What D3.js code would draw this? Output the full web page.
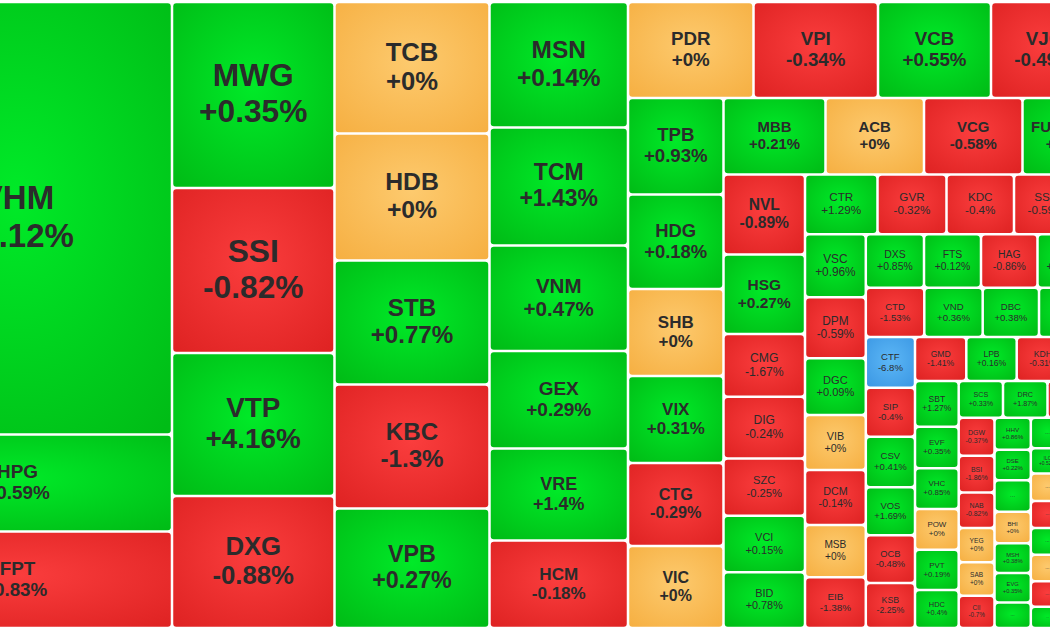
<!DOCTYPE html>
<html>
<head>
<meta charset="utf-8">
<script src="https://cdn.jsdelivr.net/npm/d3@7"></script>
<style>
  body { margin: 0; background: #fff; }
  svg { display: block; }
  text { font-family: "Liberation Sans", Arial, sans-serif; fill: #2b2b2b; }
</style>
</head>
<body>
<svg id="chart" width="1050" height="630"></svg>
<script>
// each strip is a column or a row of tiles, laid out in reading order
const stripKinds = ["col","col","col","col","row","col","row","col","row","col",
                    "row","row","col","row","col","row","col","col","col","col"];
const stripSizes = [3,4,5,6,5,6,4,7,5,7,5,5,6,4,6,4,6,7,8,1];

// "" = tile cut off by the right edge, "..." = tile shown without a label
const tickers = [
  "VHM","HPG","FPT",
  "MWG","SSI","VTP","DXG",
  "TCB","HDB","STB","KBC","VPB",
  "MSN","TCM","VNM","GEX","VRE","HCM",
  "PDR","VPI","VCB","VJC","",
  "TPB","HDG","SHB","VIX","CTG","VIC",
  "MBB","ACB","VCG","FUEVFVND",
  "NVL","HSG","CMG","DIG","SZC","VCI","BID",
  "CTR","GVR","KDC","SSB","",
  "VSC","DPM","DGC","VIB","DCM","MSB","EIB",
  "DXS","FTS","HAG","","",
  "CTD","VND","DBC","","",
  "CTF","SIP","CSV","VOS","OCB","KSB",
  "GMD","LPB","KDH","",
  "SBT","EVF","VHC","POW","PVT","HDC",
  "SCS","DRC","","",
  "DGW","BSI","NAB","YEG","SAB","CII",
  "HHV","DSE","...","BHI","MSH","EVG","...",
  "...","ILC","...","...","...","...","...","...",
  ""
];

// trading weight of each ticker (tile area)
const weights = [
  133643,29973,29819,
  30225,26813,23238,21450,
  20383,19685,19220,19220,18523,
  17382,16343,14612,13504,12742,12119,
  12048,11952,10848,10176,2208,
  9216,9025,8309,8309,7927,7831,
  7803,7535,7535,7459,
  6520,6479,5110,5037,4670,4605,4540,
  4336,4126,4037,3827,2512,
  3824,3715,3447,3344,3344,3174,3089,
  3108,3044,3017,2857,1549,
  2884,2879,2776,2613,1380,
  2494,2411,2485,2367,2347,2214,
  2257,2218,2301,2244,
  1997,1818,1779,1779,1761,1661,
  1626,1633,1560,1101,
  1364,1314,1271,1228,1199,1153,
  1162,1111,1140,1147,1078,1071,926,
  1016,837,913,896,886,883,843,707,
  11777
];

// daily change, %
const changes = [
  1.12,0.59,-0.83,
  0.35,-0.82,4.16,-0.88,
  0,0,0.77,-1.3,0.27,
  0.14,1.43,0.47,0.29,1.4,-0.18,
  0,-0.34,0.55,-0.49,0,
  0.93,0.18,0,0.31,-0.29,0,
  0.21,0,-0.58,0.53,
  -0.89,0.27,-1.67,-0.24,-0.25,0.15,0.78,
  1.29,-0.32,-0.4,-0.59,0,
  0.96,-0.59,0.09,0,-0.14,0,-1.38,
  0.85,0.12,-0.86,0.55,0,
  -1.53,0.36,0.38,0.2,0,
  -6.8,-0.4,0.41,1.69,-0.48,-2.25,
  -1.41,0.16,-0.31,0,
  1.27,0.35,0.85,0,0.19,0.4,
  0.33,1.87,-0.5,0,
  -0.37,-1.86,-0.82,0,0,-0.7,
  0.86,0.22,0.5,0,0.38,0.35,0.5,
  0.5,0.52,0,-0.5,0.5,0,-0.5,0.5,
  0
];

const leaves = tickers.map((t, i) => ({ name: t, value: weights[i], change: changes[i] }));
let k = 0;
const strips = stripKinds.map((kind, i) => {
  const kids = leaves.slice(k, k + stripSizes[i]);
  k += stripSizes[i];
  return { dir: kind === "col" ? "v" : "h", children: kids };
});
function nest(i) {
  if (i === strips.length - 1) return strips[i];
  return { dir: strips[i].dir === "v" ? "h" : "v", children: [strips[i], nest(i + 1)] };
}

const root = d3.hierarchy(nest(0)).sum(d => d.children ? 0 : d.value);
d3.treemap()
  .size([1257, 626])
  .tile((node, x0, y0, x1, y1) =>
    (node.data.dir === "h" ? d3.treemapDice : d3.treemapSlice)(node, x0, y0, x1, y1))(root);

const svg = d3.select("#chart");
const defs = svg.append("defs");
const palette = {
  up:   ["#00ea28", "#00bc16"],
  down: ["#fa3d3d", "#df2323"],
  flat: ["#fdca6e", "#f6b043"],
  floor:["#5cb7f6", "#3c98e4"]
};
Object.entries(palette).forEach(([key, c]) => {
  const g = defs.append("radialGradient").attr("id", "g-" + key)
    .attr("cx", "50%").attr("cy", "45%").attr("r", "72%");
  g.append("stop").attr("offset", "0%").attr("stop-color", c[0]);
  g.append("stop").attr("offset", "100%").attr("stop-color", c[1]);
});
function colorKey(v) {
  if (v <= -6.5) return "floor";
  if (v > 0) return "up";
  if (v < 0) return "down";
  return "flat";
}
const fmt = v => (v >= 0 ? "+" : "") + v + "%";

const g = svg.append("g").attr("transform", "translate(-137,2)");
const cell = g.selectAll("g.cell")
  .data(root.leaves())
  .enter().append("g").attr("class", "cell");

cell.append("rect")
  .attr("x", d => d.x0 + 1.25)
  .attr("y", d => d.y0 + 1.25)
  .attr("width", d => Math.max(0, d.x1 - d.x0 - 2.5))
  .attr("height", d => Math.max(0, d.y1 - d.y0 - 2.5))
  .attr("rx", 3)
  .attr("fill", d => "url(#g-" + colorKey(d.data.change) + ")");

cell.each(function(d) {
  const w = d.x1 - d.x0, h = d.y1 - d.y0;
  const fs = Math.min(33, 0.195 * Math.min(w, h));
  if (fs < 4) return;
  const cx = (d.x0 + d.x1) / 2, cy = (d.y0 + d.y1) / 2;
  const sel = d3.select(this);
  const weight = fs >= 12.5 ? "bold" : "normal";
  if (d.data.name === "...") {
    sel.append("text").attr("x", cx).attr("y", cy + 0.15 * fs)
      .attr("text-anchor", "middle").attr("font-size", fs).text("...");
    return;
  }
  const b1 = cy - 0.27 * fs;
  if (d.data.name) {
    sel.append("text").attr("x", cx).attr("y", b1)
      .attr("text-anchor", "middle").attr("font-size", fs).attr("font-weight", weight)
      .text(d.data.name);
  }
  sel.append("text").attr("x", cx).attr("y", b1 + 1.13 * fs)
    .attr("text-anchor", "middle").attr("font-size", fs).attr("font-weight", weight)
    .text(fmt(d.data.change));
});
</script>
</body>
</html>
